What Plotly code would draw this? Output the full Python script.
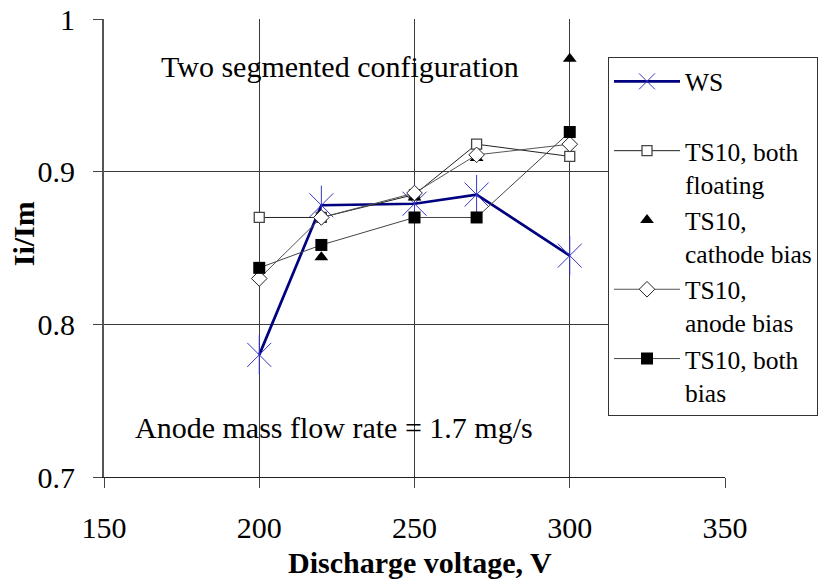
import plotly.graph_objects as go

# ---- data ----
voltage = [200, 220, 250, 270, 300]
ws = [0.780, 0.878, 0.879, 0.885, 0.845]
ts10_floating = [0.870, 0.870, 0.885, 0.918, 0.910]
ts10_cathode_v = [220, 250, 270, 300]
ts10_cathode = [0.844, 0.883, 0.909, 0.974]
ts10_anode = [0.830, 0.870, 0.886, 0.911, 0.918]
ts10_both = [0.837, 0.852, 0.870, 0.870, 0.926]

x_ticks = [150, 200, 250, 300, 350]
x_ticktext = ["150", "200", "250", "300", "350"]
y_ticks = [0.7, 0.8, 0.9, 1.0]
y_ticktext = ["0.7", "0.8", "0.9", "1"]

FONT = "Liberation Serif, Times New Roman, serif"
NB = "\u00a0"

fig = go.Figure()

fig.add_trace(go.Scatter(
    x=voltage, y=ws, mode="lines+markers", name="WS<br>" + NB,
    line=dict(color="#000080", width=2.7),
    marker=dict(symbol="x-thin-open", size=24, color="#3535c8",
                line=dict(color="#3535c8", width=1)),
))
fig.add_trace(go.Scatter(
    x=voltage, y=ws, mode="markers", showlegend=False, hoverinfo="skip",
    marker=dict(symbol="line-ns-open", size=28, color="#3535c8",
                line=dict(color="#3535c8", width=1)),
))
fig.add_trace(go.Scatter(
    x=voltage, y=ts10_floating, mode="lines+markers",
    name="TS10, both<br>floating",
    line=dict(color="#222222", width=1),
    marker=dict(symbol="square", size=10, color="white",
                line=dict(color="#444444", width=1.3)),
))
fig.add_trace(go.Scatter(
    x=ts10_cathode_v, y=ts10_cathode, mode="markers",
    name="TS10,<br>cathode bias",
    marker=dict(symbol="triangle-up", size=12, color="black"),
))
fig.add_trace(go.Scatter(
    x=voltage, y=ts10_anode, mode="lines+markers",
    name="TS10,<br>anode bias",
    line=dict(color="#555555", width=1),
    marker=dict(symbol="diamond", size=12, color="white",
                line=dict(color="#222222", width=1)),
))
fig.add_trace(go.Scatter(
    x=voltage, y=ts10_both, mode="lines+markers",
    name="TS10, both<br>bias",
    line=dict(color="#444444", width=1),
    marker=dict(symbol="square", size=12, color="black"),
))

fig.add_annotation(text="Two segmented configuration", xref="paper", yref="paper",
                   x=0.380, y=0.897, xanchor="center", yanchor="middle",
                   showarrow=False, font=dict(family=FONT, size=30, color="black"))
fig.add_annotation(text="Anode mass flow rate = 1.7 mg/s", xref="paper", yref="paper",
                   x=0.3696, y=0.108, xanchor="center", yanchor="middle",
                   showarrow=False, font=dict(family=FONT, size=30, color="black"))
fig.add_annotation(text="<b>Discharge voltage, V</b>", xref="paper", yref="paper",
                   x=0.5089, y=-0.1877, xanchor="center", yanchor="middle",
                   showarrow=False, font=dict(family=FONT, size=30, color="black"))
fig.add_annotation(text="<b>Ii/Im</b>", xref="paper", yref="paper", textangle=-90,
                   x=-0.1304, y=0.530, xanchor="center", yanchor="middle",
                   showarrow=False, font=dict(family=FONT, size=30, color="black"))

fig.update_xaxes(range=[150, 350], tickvals=x_ticks, ticktext=x_ticktext,
                 showgrid=True, gridcolor="#3a3a3a", gridwidth=1,
                 showline=True, linecolor="#222222", linewidth=1,
                 ticks="outside", ticklen=10, tickcolor="#444444",
                 ticklabelstandoff=14, zeroline=False,
                 tickfont=dict(family=FONT, size=30, color="black"))
fig.update_yaxes(range=[0.7, 1.0], tickvals=y_ticks, ticktext=y_ticktext,
                 showgrid=True, gridcolor="#3a3a3a", gridwidth=1,
                 showline=True, linecolor="#555555", linewidth=2,
                 ticks="outside", ticklen=9, tickcolor="#444444",
                 ticklabelstandoff=12, zeroline=False,
                 tickfont=dict(family=FONT, size=30, color="black"))

fig.update_layout(
    width=840, height=584,
    margin=dict(l=104, r=115, t=19, b=107, autoexpand=False),
    paper_bgcolor="white", plot_bgcolor="white",
    font=dict(family=FONT, color="black"),
    legend=dict(x=0.8116, y=0.9164, xanchor="left", yanchor="top",
                bgcolor="white", bordercolor="#333333", borderwidth=1,
                font=dict(family=FONT, size=25.5, color="black"),
                itemwidth=66, valign="top", tracegroupgap=0),
)

fig.write_html("out.html")
